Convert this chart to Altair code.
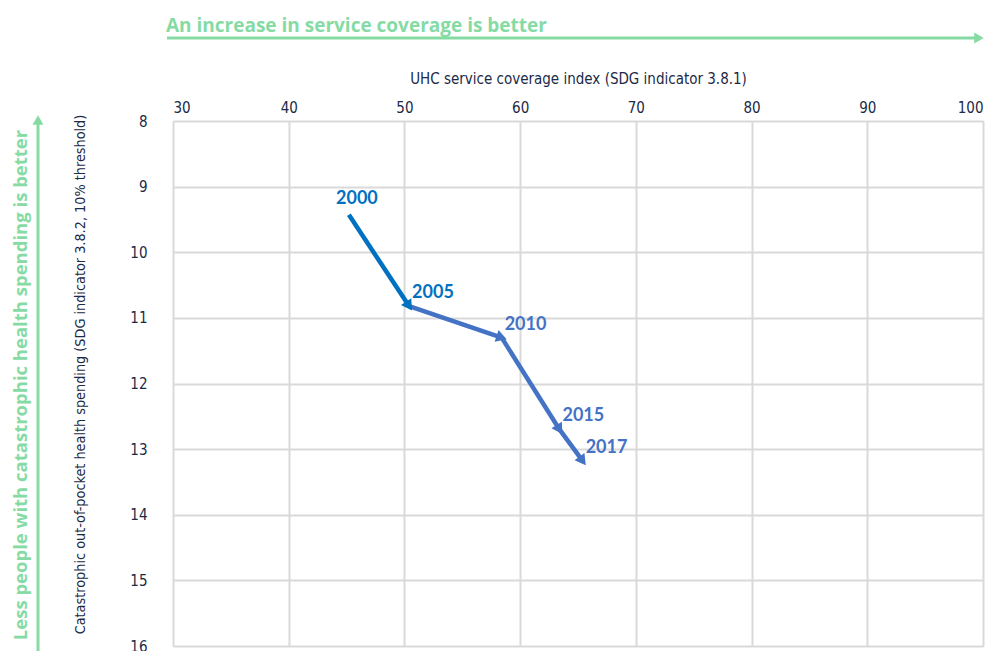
import math
import altair as alt
import pandas as pd

years = ["2000", "2005", "2010", "2015", "2017"]
coverage = [45.2, 50.4, 58.4, 63.4, 65.4]
catastrophic = [9.43, 10.82, 11.3, 12.7, 13.18]
seg_colors = ["#0070C0", "#4472C4", "#4472C4", "#4472C4"]
label_colors = ["#0070C0", "#0070C0", "#4472C4", "#4472C4", "#4472C4"]

W, H = 810, 525
XMIN, XMAX, YMIN, YMAX = 30, 100, 8, 16
kx = W / (XMAX - XMIN)
ky = H / (YMAX - YMIN)

seg_rows = []
for i in range(len(years) - 1):
    dx = (coverage[i + 1] - coverage[i]) * kx
    dy = (catastrophic[i + 1] - catastrophic[i]) * ky
    ang = math.degrees(math.atan2(dx, -dy)) % 360
    seg_rows.append(dict(x=coverage[i], y=catastrophic[i], x2=coverage[i + 1],
                         y2=catastrophic[i + 1], ang=ang, c=seg_colors[i]))
seg = pd.DataFrame(seg_rows)
pts = pd.DataFrame(dict(year=years, x=coverage, y=catastrophic, c=label_colors))

GREEN = "#86dba4"
LABEL = "#1b2a47"
NARROW = "DejaVu Sans Condensed, Liberation Sans Narrow, Roboto, sans-serif"

xs = alt.Scale(domain=[XMIN, XMAX], nice=False)
ys = alt.Scale(domain=[YMIN, YMAX], reverse=True, nice=False)

xenc = alt.X("x:Q", scale=xs, axis=alt.Axis(
    orient="top", title="UHC service coverage index (SDG indicator 3.8.1)",
    values=list(range(30, 101, 10)), format="d", titleFont=NARROW, titleFontSize=15,
    titleFontWeight="normal", titleColor=LABEL, titlePadding=14,
    labelFont=NARROW, labelFontSize=15, labelColor=LABEL, labelPadding=6,
    ticks=False, domain=False, gridColor="#d9d9d9", gridWidth=2))
yenc = alt.Y("y:Q", scale=ys, axis=alt.Axis(
    title="Catastrophic out-of-pocket health spending (SDG indicator 3.8.2, 10% threshold)",
    values=list(range(8, 17)), format="d", titleFont=NARROW, titleFontSize=14.3,
    titleFontWeight="normal", titleColor=LABEL, titlePadding=42, titleY=253,
    labelFont=NARROW, labelFontSize=15, labelColor=LABEL, labelPadding=26,
    ticks=False, domain=False, gridColor="#d9d9d9", gridWidth=2))

segments = alt.Chart(seg).mark_rule(strokeWidth=4.5, strokeCap="butt").encode(
    x=xenc, y=yenc, x2="x2:Q", y2="y2:Q",
    color=alt.Color("c:N", scale=None))
heads = alt.Chart(seg).mark_point(shape="triangle-up", filled=True, size=150, opacity=1).encode(
    x=alt.X("x2:Q", scale=xs), y=alt.Y("y2:Q", scale=ys),
    angle=alt.Angle("ang:Q", scale=None),
    color=alt.Color("c:N", scale=None))

first = pts.iloc[[0]]
rest = pts.iloc[1:]
lab1 = alt.Chart(first).mark_text(font="Lato", fontWeight="bold", fontSize=18,
                                  align="center", dx=8, dy=-16).encode(
    x=alt.X("x:Q", scale=xs), y=alt.Y("y:Q", scale=ys), text="year:N",
    color=alt.Color("c:N", scale=None))
lab2 = alt.Chart(rest).mark_text(font="Lato", fontWeight="bold", fontSize=18,
                                 align="left", dx=3, dy=-13).encode(
    x=alt.X("x:Q", scale=xs), y=alt.Y("y:Q", scale=ys), text="year:N",
    color=alt.Color("c:N", scale=None))

ann_src = pd.DataFrame({"a": [0]})
htext = alt.Chart(ann_src).mark_text(
    text="An increase in service coverage is better", font="Open Sans", fontWeight="bold",
    fontSize=19, color=GREEN, align="left", baseline="middle").encode(
    x=alt.value(-7), y=alt.value(-95))
hline = alt.Chart(ann_src).mark_rule(color=GREEN, strokeWidth=3).encode(
    x=alt.value(-6), x2=alt.value(805), y=alt.value(-83))
hhead = alt.Chart(ann_src).mark_point(shape="triangle-right", filled=True, size=120,
                                       color=GREEN, opacity=1).encode(
    x=alt.value(806), y=alt.value(-83))
vtext = alt.Chart(ann_src).mark_text(
    text="Less people with catastrophic health spending is better", font="Open Sans",
    fontWeight="bold", fontSize=18.5, color=GREEN, angle=270, align="center",
    baseline="middle").encode(x=alt.value(-152), y=alt.value(264))
vline = alt.Chart(ann_src).mark_rule(color=GREEN, strokeWidth=3).encode(
    x=alt.value(-135), y=alt.value(530), y2=alt.value(0))
vhead = alt.Chart(ann_src).mark_point(shape="triangle-up", filled=True, size=120,
                                       color=GREEN, opacity=1).encode(
    x=alt.value(-135), y=alt.value(-1))

chart = alt.layer(segments, heads, lab1, lab2, htext, hline, hhead, vtext, vline, vhead).properties(
    width=W, height=H,
    autosize=alt.AutoSizeParams(type="none"),
    padding={"left": 165, "top": 113, "right": 4, "bottom": 5},
).configure_view(stroke="#c8c8c8", strokeWidth=2).configure(background="white")

chart.save("out.html", embed_options={"renderer": "svg", "actions": False})
